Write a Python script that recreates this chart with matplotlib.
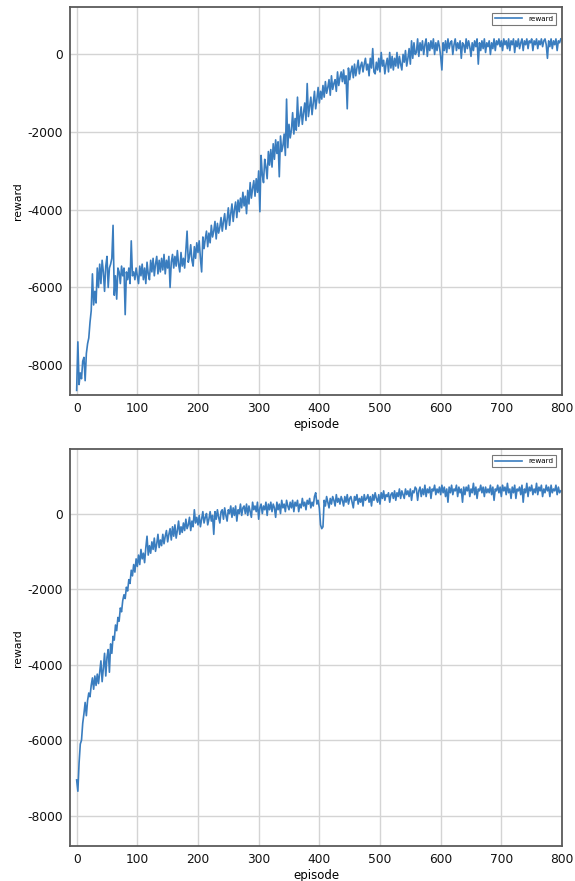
import numpy as np
import matplotlib
matplotlib.use('Agg')
import matplotlib.pyplot as plt

plt.rcParams['font.family'] = ['DejaVu Sans']
plt.rcParams['axes.unicode_minus'] = False

# episodes sampled every 2 steps
episodes = list(range(0, 800, 2))

reward_top = [
    -8650, -7400, -8500, -8200, -8350, -7900, -7800, -8400, -7700, -7450,
    -7300, -6900, -6600, -5650, -6450, -6100, -6400, -5500, -6000, -5400,
    -5900, -5300, -5600, -6100, -5450, -5200, -6000, -5500, -5400, -5250,
    -4400, -6200, -5700, -6300, -5500, -5600, -5900, -5450, -5700, -5500,
    -6700, -5600, -5800, -5500, -5900, -4800, -5700, -5600, -5800, -5500,
    -5700, -5900, -5450, -5700, -5400, -5800, -5500, -5900, -5350, -5650,
    -5800, -5300, -5600, -5250, -5700, -5400, -5200, -5650, -5300, -5600,
    -5250, -5550, -5150, -5650, -5300, -5500, -5200, -6000, -5350, -5150,
    -5500, -5200, -5450, -5050, -5400, -5600, -5100, -5450, -5250, -5500,
    -5050, -4550, -5350, -5200, -4900, -5300, -5450, -4950, -5250, -4850,
    -5100, -4800, -5250, -5600, -4700, -5000, -4750, -4550, -4950, -4600,
    -4850, -4400, -4700, -4550, -4300, -4750, -4350, -4600, -4450, -4200,
    -4550, -4300, -4100, -4500, -4250, -3950, -4400, -4100, -3850, -4300,
    -4000, -3800, -4200, -3750, -4050, -3700, -3950, -3550, -3900, -3650,
    -4100, -3500, -3850, -3300, -3700, -3450, -3250, -3650, -3200, -3550,
    -3000, -4050, -2600, -3100, -3300, -2700, -2900, -3200, -2500, -2850,
    -2450, -2900, -2300, -2700, -2200, -2550, -2250, -3150, -2100, -2500,
    -2350, -2050, -2600, -1150, -2400, -1800, -2150, -1950, -1500, -2050,
    -1650, -1950, -1100, -1850, -1600, -1350, -1800, -1500, -1250, -1700,
    -750, -1600, -1350, -1100, -1550, -1250, -950, -1400, -1150, -850,
    -1250, -950, -1150, -800, -1100, -700, -1000, -850, -650, -1050,
    -550, -900, -750, -650, -950, -450, -800, -600, -450, -700,
    -400, -750, -550, -1400, -350, -650, -450, -300, -600, -250,
    -550, -350, -150, -500, -300, -200, -450, -250, -100, -400,
    -250, -550, -100, -350, 150, -450, -500, -200, -400, -100,
    -450, 50, -300, -150, -500, -250, -100, -450, 50, -350,
    -50, -400, -100, -300, 50, -350, -50, -250, -400, 0,
    -200, 100, -300, -100, 150, -250, 350, -100, 300, 0,
    50, 400, -50, 300, 100, 350, 0, 250, 400, -50,
    300, 100, 350, 150, 400, 0, 300, 100, 350, 200,
    -50, -400, 300, 100, 350, 50, 400, 150, 300, 350,
    0, 250, 400, 100, 300, 150, 350, -100, 300, 250,
    50, 400, 150, 350, 200, -50, 300, 100, 350, 200,
    400, -250, 300, 100, 350, 150, 400, 50, 300, 200,
    350, 0, 300, 150, 400, 100, 350, 250, 400, 200,
    350, 100, 400, 250, 350, 150, 400, 100, 350, 250,
    400, 50, 350, 200, 400, 150, 300, 400, 100, 350,
    250, 400, 150, 350, 300, 400, 100, 350, 250, 400,
    150, 350, 250, 400, 200, 350, 400, 250, -100, 350,
    200, 400, 150, 350, 250, 400, 100, 350, 300, 400,
]

reward_bottom = [
    -7050, -7350, -6600, -6100, -6000, -5550, -5300, -5000, -5350, -4950,
    -4750, -4850, -4550, -4350, -4650, -4300, -4550, -4250, -4500, -4200,
    -3900, -4450, -4100, -3700, -4300, -3800, -3600, -4200, -3450, -3700,
    -3250, -3350, -2950, -3100, -2750, -2850, -2500, -2600, -2300, -2150,
    -2250, -1950, -2050, -1750, -1850, -1500, -1650, -1350, -1550, -1200,
    -1400, -1100, -1350, -950, -1200, -1050, -1300, -900, -600, -1100,
    -850, -1050, -750, -950, -650, -1000, -800, -550, -900, -700,
    -850, -550, -800, -600, -450, -750, -550, -400, -700, -350,
    -600, -300, -650, -450, -200, -550, -350, -500, -250, -450,
    -150, -400, -300, -100, -450, -200, -350, 100, -250, -100,
    -300, -50, -350, -150, 50, -250, -100, 0, -300, -150,
    50, -200, -50, -550, 50, -150, 100, -100, -250, 50,
    100, -150, 150, -50, -200, 100, 0, 200, -100, 150,
    -50, 200, -200, 100, 0, 250, -50, 150, 200, 0,
    250, -50, 200, 50, -100, 300, 100, 200, 50, 300,
    -150, 150, 250, 0, 200, 100, 300, -50, 250, 100,
    300, 50, 250, 150, -100, 300, 100, 250, 0, 350,
    150, 250, 50, 350, 200, 100, 300, 150, 350, 50,
    300, 200, 350, 50, 250, 150, 400, 200, 300, 100,
    350, 250, 400, 150, 300, 200, 450, 550, 250, 350,
    150, -300, -400, -350, 350, 200, 450, 300, 150, 400,
    250, 450, 350, 200, 500, 300, 400, 250, 450, 350,
    200, 450, 300, 500, 250, 400, 450, 300, 150, 450,
    350, 500, 250, 400, 300, 450, 200, 500, 350, 400,
    500, 300, 450, 200, 500, 350, 550, 400, 300, 500,
    250, 550, 400, 600, 350, 500, 450, 550, 300, 500,
    550, 400, 600, 350, 550, 450, 650, 400, 600, 500,
    400, 650, 500, 600, 450, 650, 350, 600, 550, 700,
    650, 350, 600, 700, 450, 650, 500, 750, 450, 650,
    550, 700, 400, 650, 600, 750, 500, 650, 550, 700,
    500, 750, 550, 700, 450, 650, 300, 700, 550, 750,
    500, 650, 600, 750, 450, 700, 550, 650, 300, 700,
    500, 700, 600, 750, 450, 650, 550, 800, 500, 700,
    400, 650, 600, 750, 550, 700, 450, 700, 550, 650,
    550, 750, 500, 700, 350, 650, 600, 750, 550, 700,
    450, 750, 600, 700, 500, 800, 550, 650, 400, 700,
    550, 750, 400, 650, 600, 700, 500, 750, 300, 650,
    550, 800, 450, 700, 600, 750, 500, 650, 550, 800,
    500, 700, 600, 750, 450, 650, 550, 750, 600, 700,
    450, 750, 550, 650, 600, 750, 500, 700, 550, 600,
]

line_color = '#3a7dbf'

fig = plt.figure(figsize=(5.75, 8.81), dpi=100)
ax1 = fig.add_axes([0.1217, 0.5516, 0.8557, 0.4404])
ax2 = fig.add_axes([0.1217, 0.0397, 0.8557, 0.4503])

for ax, data, ylim in [(ax1, reward_top, (-8770, 1220)),
                       (ax2, reward_bottom, (-8800, 1700))]:
    ax.plot(episodes, data, color=line_color, linewidth=1.2, label='reward')
    ax.set_xlim(-11, 800)
    ax.set_ylim(*ylim)
    ax.set_xticks([0, 100, 200, 300, 400, 500, 600, 700, 800])
    ax.set_yticks([-8000, -6000, -4000, -2000, 0])
    ax.grid(True, color='#d4d4d4', linewidth=1.0)
    ax.set_axisbelow(True)
    for s in ax.spines.values():
        s.set_color('#5a5a5a')
        s.set_linewidth(1.3)
    ax.tick_params(length=0, labelsize=8.8, pad=5, colors='#111111')
    ax.set_xlabel('episode', fontsize=8.5, labelpad=2)
    ax.set_ylabel('reward', fontsize=7.8, labelpad=3)
    leg = ax.legend(loc='upper right', fontsize=5.2, fancybox=False,
                    edgecolor='#555555', handlelength=3.8, borderpad=0.4,
                    borderaxespad=0.8)
    leg.get_frame().set_linewidth(0.8)

fig.savefig('out.png', dpi=100)
